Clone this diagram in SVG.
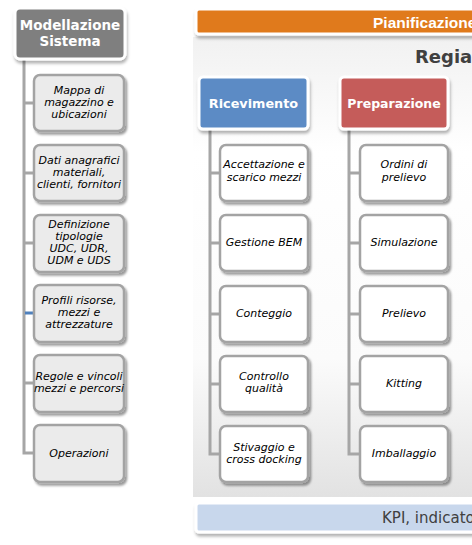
<svg xmlns="http://www.w3.org/2000/svg" width="472" height="545" viewBox="0 0 472 545">
<defs>
<filter id="sh" x="-20%" y="-20%" width="150%" height="150%">
<feDropShadow dx="2" dy="2.5" stdDeviation="1.3" flood-color="#000" flood-opacity="0.4"/>
</filter>
<filter id="shb" x="-10%" y="-30%" width="130%" height="180%">
<feDropShadow dx="1" dy="3" stdDeviation="1.5" flood-color="#000" flood-opacity="0.3"/>
</filter>
<linearGradient id="pg" x1="0" y1="0" x2="0" y2="1">
<stop offset="0" stop-color="#f1f1f1"/>
<stop offset="0.25" stop-color="#ffffff"/>
<stop offset="0.7" stop-color="#fbfbfb"/>
<stop offset="1" stop-color="#e2e2e2"/>
</linearGradient>
</defs>
<style>
.par{stroke:#fff;stroke-width:3;filter:url(#shb)}
.cg{fill:#ebebeb;stroke:#a3a3a3;stroke-width:2.5;filter:url(#sh)}
.cw{fill:#ffffff;stroke:#a3a3a3;stroke-width:2.5;filter:url(#sh)}
.ct{font-family:"DejaVu Sans",sans-serif;font-style:italic;font-size:11px;fill:#000;text-anchor:middle}
.pt{font-family:"DejaVu Sans",sans-serif;font-weight:bold;fill:#fff;text-anchor:middle}
.ln{fill:none;stroke:#a6a6a6;stroke-width:3}
</style>
<rect x="193" y="37" width="285" height="460" fill="url(#pg)"/>
<g id="pianificazione">
<rect x="196" y="9" width="284" height="25" rx="3" fill="#e07a1e" class="par"/>
<text x="373" y="27.5" font-family="Liberation Sans,Arial,sans-serif" font-weight="bold" font-size="15.5" fill="#fff">Pianificazione</text>
</g>
<g id="regia"><text x="415" y="63" font-family="DejaVu Sans,sans-serif" font-weight="bold" font-size="18" fill="#404040">Regia</text></g>
<g id="kpi">
<rect x="196" y="503" width="284" height="29" rx="3" fill="#c8d7ec" class="par"/>
<text x="382" y="523" font-family="DejaVu Sans,sans-serif" font-size="15" fill="#404040">KPI, indicatori</text>
</g>
<g id="connectors">
<path class="ln" d="M24 58V453H34M24 103H34M24 173H34M24 243H34M24 383H34"/>
<path d="M25 313H34" stroke="#4f81bd" stroke-width="3"/>
<path class="ln" d="M210 129V454H220M210 173H220M210 243H220M210 314H220M210 384H220"/>
<path class="ln" d="M349 129V454H360M349 173H360M349 243H360M349 314H360M349 384H360"/>
</g>
<g id="modellazione">
<rect x="15" y="8" width="110" height="51" rx="5" fill="#7f7f7f" class="par"/>
<text class="pt" font-size="13.5" x="70" y="30">Modellazione</text>
<text class="pt" font-size="13.5" x="70" y="46">Sistema</text>
</g>
<g id="mappa"><rect class="cg" x="34" y="75" width="90" height="56" rx="6"/>
<text class="ct" x="79" y="93.5">Mappa di</text><text class="ct" x="79" y="105.5">magazzino e</text><text class="ct" x="79" y="117.5">ubicazioni</text></g>
<g id="dati"><rect class="cg" x="34" y="145" width="90" height="56" rx="6"/>
<text class="ct" x="79" y="163.5">Dati anagrafici</text><text class="ct" x="79" y="175.5">materiali,</text><text class="ct" x="79" y="187.5">clienti, fornitori</text></g>
<g id="definizione"><rect class="cg" x="34" y="215" width="90" height="57" rx="6"/>
<text class="ct" x="79" y="228">Definizione</text><text class="ct" x="79" y="240">tipologie</text><text class="ct" x="79" y="252">UDC, UDR,</text><text class="ct" x="79" y="264">UDM e UDS</text></g>
<g id="profili"><rect class="cg" x="34" y="285" width="90" height="57" rx="6"/>
<text class="ct" x="79" y="304">Profili risorse,</text><text class="ct" x="79" y="316">mezzi e</text><text class="ct" x="79" y="328">attrezzature</text></g>
<g id="regole"><rect class="cg" x="34" y="355" width="90" height="57" rx="6"/>
<text class="ct" x="79" y="380" font-size="10.3">Regole e vincoli</text><text class="ct" x="79" y="392" font-size="10.3">mezzi e percorsi</text></g>
<g id="operazioni"><rect class="cg" x="34" y="425" width="90" height="57" rx="6"/>
<text class="ct" x="79" y="457">Operazioni</text></g>
<g id="ricevimento">
<rect x="199" y="77" width="109" height="52" rx="4" fill="#5b8bc5" class="par"/>
<text class="pt" font-size="12.8" x="253.5" y="108">Ricevimento</text>
</g>
<g id="preparazione">
<rect x="340" y="77" width="108" height="52" rx="4" fill="#c55b5a" class="par"/>
<text class="pt" font-size="12.5" x="394" y="108">Preparazione</text>
</g>
<g id="accettazione"><rect class="cw" x="220" y="145" width="88" height="56" rx="6"/>
<text class="ct" x="264" y="168">Accettazione e</text><text class="ct" x="264" y="181">scarico mezzi</text></g>
<g id="gestione"><rect class="cw" x="220" y="215" width="88" height="56" rx="6"/>
<text class="ct" x="264" y="246">Gestione BEM</text></g>
<g id="conteggio"><rect class="cw" x="220" y="286" width="88" height="56" rx="6"/>
<text class="ct" x="264" y="317">Conteggio</text></g>
<g id="controllo"><rect class="cw" x="220" y="356" width="88" height="56" rx="6"/>
<text class="ct" x="264" y="380">Controllo</text><text class="ct" x="264" y="392">qualità</text></g>
<g id="stivaggio"><rect class="cw" x="220" y="426" width="88" height="56" rx="6"/>
<text class="ct" x="264" y="451">Stivaggio e</text><text class="ct" x="264" y="463">cross docking</text></g>
<g id="ordini"><rect class="cw" x="360" y="145" width="88" height="56" rx="6"/>
<text class="ct" x="404" y="168">Ordini di</text><text class="ct" x="404" y="181">prelievo</text></g>
<g id="simulazione"><rect class="cw" x="360" y="215" width="88" height="56" rx="6"/>
<text class="ct" x="404" y="246">Simulazione</text></g>
<g id="prelievo"><rect class="cw" x="360" y="286" width="88" height="56" rx="6"/>
<text class="ct" x="404" y="317">Prelievo</text></g>
<g id="kitting"><rect class="cw" x="360" y="356" width="88" height="56" rx="6"/>
<text class="ct" x="404" y="387">Kitting</text></g>
<g id="imballaggio"><rect class="cw" x="360" y="426" width="88" height="56" rx="6"/>
<text class="ct" x="404" y="457">Imballaggio</text></g>
</svg>
